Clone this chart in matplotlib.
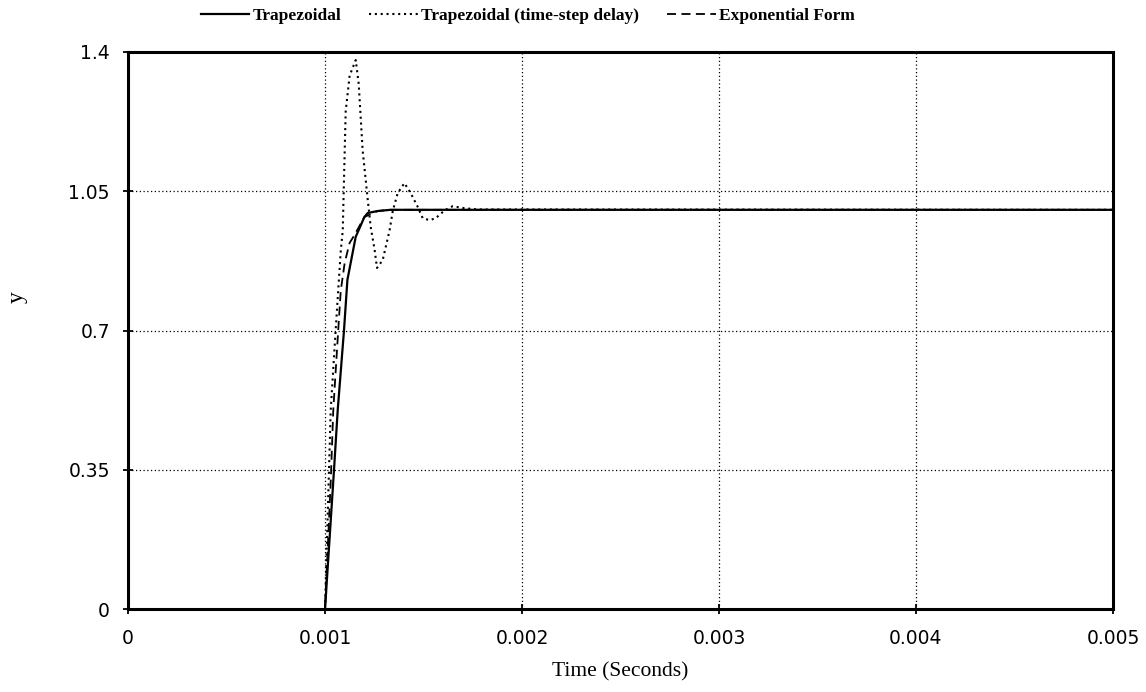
import matplotlib
matplotlib.use("Agg")
import matplotlib.pyplot as plt

# ---- data ----
t_trap = [0.0, 0.001, 0.0010457, 0.0010645, 0.0010964, 0.0011137, 0.0011558,
          0.0012, 0.0012168, 0.0012675, 0.001333, 0.005]
y_trap = [0.0, 0.0, 0.35, 0.50, 0.70, 0.827, 0.935,
          0.985, 0.995, 1.0, 1.003, 1.003]

t_delay = [0.0, 0.001, 0.001029, 0.001054, 0.00108, 0.00109, 0.001105, 0.001125,
           0.001156, 0.001171, 0.001191, 0.001217, 0.001232, 0.001252, 0.001264,
           0.001293, 0.001328, 0.001344, 0.001369, 0.001403, 0.001435, 0.001471,
           0.001496, 0.001531, 0.001562, 0.001608, 0.001648, 0.001709, 0.001775,
           0.005]
y_delay = [0.0, 0.0, 0.5, 0.70, 0.90, 0.95, 1.25, 1.34,
           1.379, 1.32, 1.153, 1.028, 0.96, 0.902, 0.857,
           0.877, 0.952, 1.0, 1.045, 1.07, 1.045, 1.01,
           0.982, 0.977, 0.982, 1.002, 1.012, 1.007, 1.004,
           1.003]

t_exp = [0.0, 0.001, 0.001029, 0.001042, 0.001067, 0.00108, 0.0011,
         0.001125, 0.00115, 0.0012, 0.0012675, 0.001333, 0.005]
y_exp = [0.0, 0.0, 0.32, 0.5, 0.70, 0.80, 0.87,
         0.92, 0.94, 0.985, 1.0, 1.003, 1.003]

x_ticks = [0, 0.001, 0.002, 0.003, 0.004, 0.005]
x_tick_labels = ["0", "0.001", "0.002", "0.003", "0.004", "0.005"]
y_ticks = [0, 0.35, 0.7, 1.05, 1.4]
y_tick_labels = ["0", "0.35", "0.7", "1.05", "1.4"]

series_names = ["Trapezoidal", "Trapezoidal (time-step delay)", "Exponential Form"]

# ---- figure ----
W, H = 1146, 692
fig = plt.figure(figsize=(W / 100, H / 100), dpi=100)
ax = fig.add_axes([128 / W, 1 - 609.3 / H, (1113 - 128) / W, (609.3 - 51.7) / H])

l1, = ax.plot(t_trap, y_trap, color="black", lw=1.6, ls="-", zorder=4)
l2, = ax.plot(t_delay, y_delay, color="black", lw=1.5, ls=(0, (1, 1.8)), zorder=3)
l3, = ax.plot(t_exp, y_exp, color="black", lw=1.3, ls=(0, (5, 3)), zorder=3)

ax.set_xlim(0, 0.005)
ax.set_ylim(0, 1.4)
ax.set_xticks(x_ticks)
ax.set_xticklabels(x_tick_labels)
ax.set_yticks(y_ticks)
ax.set_yticklabels(y_tick_labels)

ax.grid(True, color="black", ls=(0, (1, 2)), lw=0.9)
ax.set_axisbelow(True)
for s in ax.spines.values():
    s.set_linewidth(2.2)
    s.set_color("black")

ax.tick_params(axis="both", direction="inout", length=7, width=1.3, colors="black")
ax.tick_params(axis="x", pad=11)
ax.tick_params(axis="y", pad=9.5)
for lab in ax.get_xticklabels() + ax.get_yticklabels():
    lab.set_fontfamily("DejaVu Sans")
    lab.set_fontsize(13.5)

fig.text(620 / W, 1 - 672 / H, "Time (Seconds)", family="Liberation Serif",
         fontsize=15.5, ha="center", va="center")
fig.text(17 / W, 1 - 297 / H, "y", family="Liberation Serif",
         fontsize=17, ha="center", va="center", rotation=90)

leg = fig.legend([l1, l2, l3], series_names, loc="center",
                 bbox_to_anchor=(528 / W, 1 - 16 / H), ncol=3, frameon=False,
                 prop=dict(family="Liberation Serif", weight="bold", size=12.5),
                 handlelength=2.8, handletextpad=0.2, columnspacing=1.6)

fig.savefig("out.png", dpi=100)
